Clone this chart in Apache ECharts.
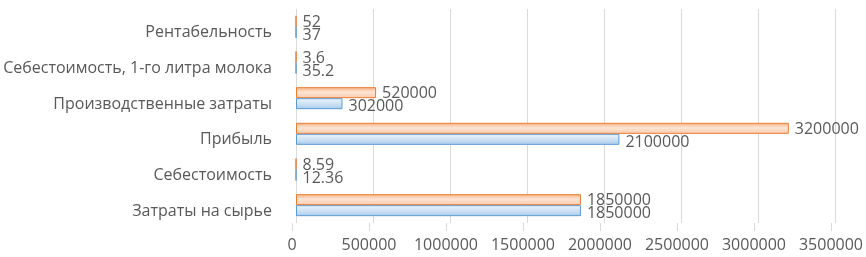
<!DOCTYPE html>
<html><head><meta charset="utf-8">
<script src="https://cdn.jsdelivr.net/npm/echarts@6/dist/echarts.min.js"></script>
<style>html,body{margin:0;padding:0;background:#fff}#c{width:866px;height:257px}</style>
</head><body><div id="c"></div>
<script>
const categories = ['Затраты на сырье','Себестоимость','Прибыль','Производственные затраты','Себестоимость, 1-го литра молока','Рентабельность'];
const seriesBlue = [1850000, 12.36, 2100000, 302000, 35.2, 37];
const seriesOrange = [1850000, 8.59, 3200000, 520000, 3.6, 52];
const xMax = 3500000, xStep = 500000;

const FONT = 'Open Sans';
const GRAY = '#595959';
const chart = echarts.init(document.getElementById('c'), null, {renderer:'canvas'});
chart.setOption({
  animation:false,
  grid:[
    {left:296, right:31, top:9, height:214},
    {left:292, right:33, top:9, height:214}
  ],
  xAxis:[
    {type:'value', gridIndex:0, min:0, max:xMax, interval:xStep,
     axisLine:{show:false}, axisTick:{show:false}, axisLabel:{show:false},
     splitLine:{show:true, lineStyle:{color:'#d9d9d9', width:1}}},
    {type:'value', gridIndex:1, min:0, max:xMax, interval:xStep,
     axisLine:{show:false}, axisTick:{show:true, length:8, inside:false, lineStyle:{color:'#d9d9d9'}},
     splitLine:{show:false},
     axisLabel:{color:GRAY, fontFamily:FONT, fontSize:16, margin:14, formatter:v=>String(v)}}
  ],
  yAxis:[
    {type:'category', gridIndex:0, data:categories,
     axisLine:{show:false}, axisTick:{show:false},
     axisLabel:{margin:24, formatter:v=>'{a|'+v+'}',
       rich:{a:{color:GRAY, fontFamily:FONT, fontSize:16, padding:[12,0,0,0]}}}},
    {type:'category', gridIndex:1, data:categories, show:false}
  ],
  series:[
    {type:'bar', name:'orange', xAxisIndex:0, yAxisIndex:0, data:seriesOrange, barWidth:11, barGap:'0%',
     itemStyle:{borderColor:'#ed7d31', borderWidth:1,
       color:new echarts.graphic.LinearGradient(0,0,0,1,[{offset:0,color:'#f4b183'},{offset:0.45,color:'#fde4d3'},{offset:1,color:'#f8cbad'}])},
     label:{show:true, position:'right', distance:6, offset:[0,1], color:GRAY, fontFamily:FONT, fontSize:16, formatter:p=>String(p.value)}},
    {type:'bar', name:'blue', xAxisIndex:0, yAxisIndex:0, data:seriesBlue, barWidth:11, barGap:'0%',
     itemStyle:{borderColor:'#5b9bd5', borderWidth:1,
       color:new echarts.graphic.LinearGradient(0,0,0,1,[{offset:0,color:'#eef5fc'},{offset:0.5,color:'#cfe2f5'},{offset:1,color:'#a9cbea'}])},
     label:{show:true, position:'right', distance:6, offset:[0,3], color:GRAY, fontFamily:FONT, fontSize:16, formatter:p=>String(p.value)}}
  ]
});
</script></body></html>
